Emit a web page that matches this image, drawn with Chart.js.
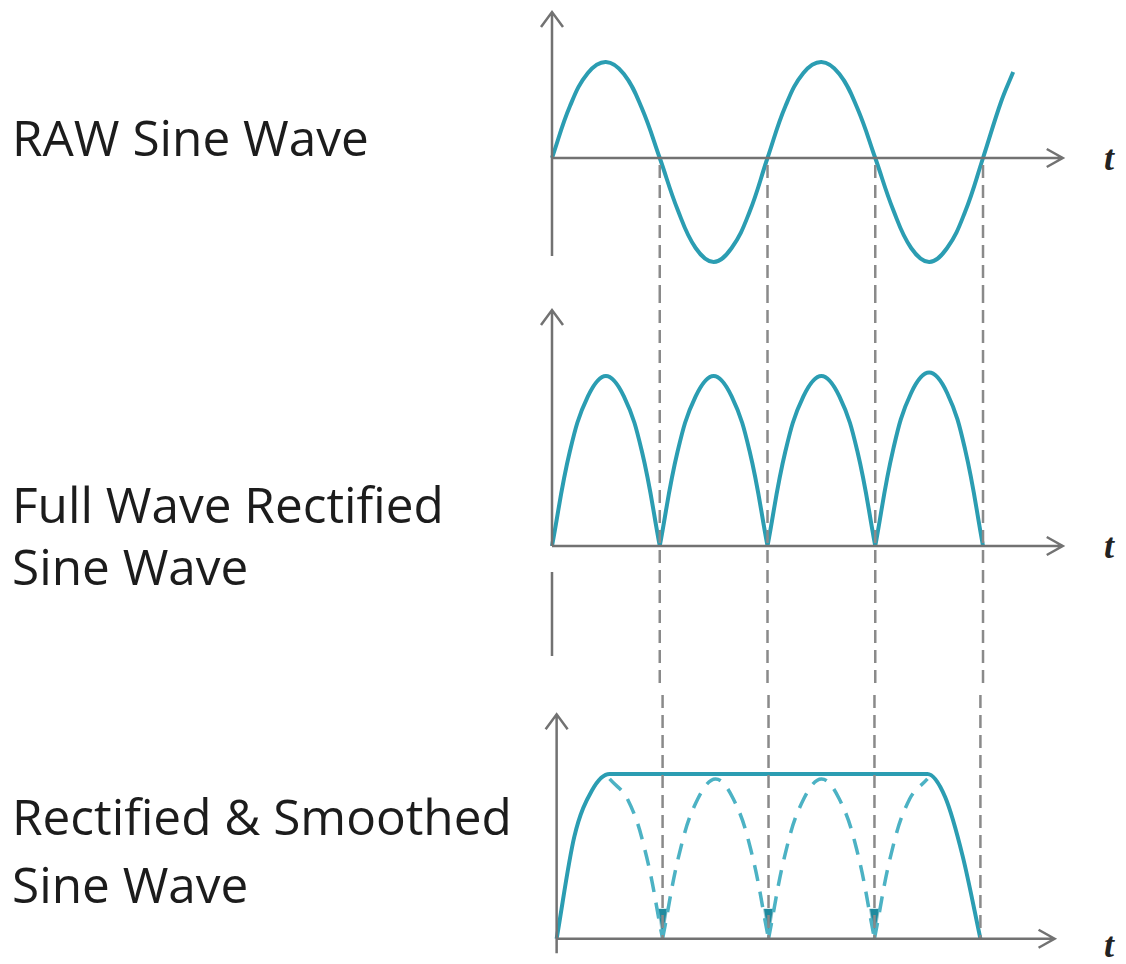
<!DOCTYPE html>
<html>
<head>
<meta charset="utf-8">
<script src="https://cdn.jsdelivr.net/npm/chart.js@4.4.1/dist/chart.umd.min.js"></script>
<style>
  html, body { margin: 0; padding: 0; background: #fff; }
  #page { position: relative; width: 1126px; height: 964px; overflow: hidden; font-family: "Open Sans", sans-serif; color: #1c1c1c; }
  .label { position: absolute; left: 12px; font-size: 49.5px; white-space: nowrap; }
  .t { position: absolute; left: 1104px; font: italic bold 36px "Liberation Serif", serif; line-height: 36px; color: #222; }
  .panel { position: absolute; left: 530px; width: 596px; }
</style>
</head>
<body>
<div id="page">
  <div class="label" style="top:105px; line-height:65px">RAW Sine Wave</div>
  <div class="label" style="top:473px; line-height:62px">Full Wave Rectified<br>Sine Wave</div>
  <div class="label" style="top:782px; line-height:68px">Rectified &amp; Smoothed<br>Sine Wave</div>
  <div class="t" style="top:140px">t</div>
  <div class="t" style="top:528px">t</div>
  <div class="t" style="top:927px">t</div>
  <canvas class="panel" id="raw" width="596" height="290" style="top:0"></canvas>
  <canvas class="panel" id="rect" width="596" height="400" style="top:290px"></canvas>
  <canvas class="panel" id="smooth" width="596" height="274" style="top:690px"></canvas>
</div>
<script>
// Time is counted in half periods of the input wave, so the zero crossings sit at 0, 1, 2, 3, 4.
const crossings = [1, 2, 3, 4];

// RAW sine wave (hand drawn in the original, so the lobes are a little uneven)
const rawTime = [0, 0.167, 0.333, 0.5, 0.667, 0.833, 1,
    1.167, 1.333, 1.5, 1.667, 1.833, 2,
    2.167, 2.333, 2.5, 2.667, 2.833, 3,
    3.167, 3.333, 3.5, 3.667, 3.833, 4,
    4.167, 4.28];
const rawValues = [0, 0.52, 0.85, 0.96, 0.84, 0.5, 0,
    -0.52, -0.9, -1.04, -0.9, -0.54, 0,
    0.52, 0.85, 0.96, 0.84, 0.5, 0,
    -0.52, -0.9, -1.04, -0.9, -0.54, 0,
    0.56, 0.86];

// Full wave rectified: one arch per half period, null breaks the line at each cusp
const rectTime = [0, 0.167, 0.333, 0.5, 0.667, 0.833, 1, 1,
    1, 1.167, 1.333, 1.5, 1.667, 1.833, 2, 2,
    2, 2.167, 2.333, 2.5, 2.667, 2.833, 3, 3,
    3, 3.167, 3.333, 3.5, 3.667, 3.833, 4];
const rectValues = [0, 0.56, 0.88, 1, 0.88, 0.56, 0, null,
    0, 0.56, 0.88, 1, 0.88, 0.56, 0, null,
    0, 0.56, 0.88, 1, 0.88, 0.56, 0, null,
    0, 0.57, 0.9, 1.02, 0.9, 0.57, 0];

// Smoothed output (solid envelope)
const smoothTime = [0, 0.167, 0.333, 0.5, 3.5, 3.667, 3.833, 4];
const smoothValues = [0, 0.62, 0.9, 1, 1, 0.86, 0.5, 0];

// The dips the smoothing removes (dashed)
const dipTime = [0.5, 0.667, 0.833, 1, 1,
    1, 1.167, 1.333, 1.5, 1.667, 1.833, 2, 2,
    2, 2.167, 2.333, 2.5, 2.667, 2.833, 3, 3,
    3, 3.167, 3.333, 3.5];
const dipValues = [0.97, 0.85, 0.54, 0, null,
    0, 0.54, 0.85, 0.97, 0.85, 0.54, 0, null,
    0, 0.54, 0.85, 0.97, 0.85, 0.54, 0, null,
    0, 0.54, 0.85, 0.97];
const dipArrowTime = [1, 2, 3];
const dipArrowValues = [0, 0, 0];

const TEAL = '#2b9db2';
const TEAL_LIGHT = '#4cb2c4';
const AXIS = '#727272';
const GUIDE = '#8a8a8a';
const X_MIN = -0.2042;
const X_MAX = 5.327;

const points = (ts, vs) => ts.map((t, i) => ({ x: t, y: vs[i] }));

// little down arrow, tip at the centre of the image
const arrowHead = document.createElement('canvas');
arrowHead.width = 12;
arrowHead.height = 64;
(() => {
    const c = arrowHead.getContext('2d');
    c.fillStyle = '#1f8a9e';
    c.beginPath();
    c.moveTo(1, 2);
    c.lineTo(11, 2);
    c.lineTo(6, 32);
    c.closePath();
    c.fill();
})();

// axes with open arrow heads + the dashed guides at the zero crossings
const sketchAxes = {
    id: 'sketchAxes',
    afterDatasetsDraw(chart, args, opts) {
        const { ctx, scales: { x, y } } = chart;
        const px = v => x.getPixelForValue(v);
        const py = v => y.getPixelForValue(v);
        ctx.save();

        ctx.strokeStyle = GUIDE;
        ctx.lineWidth = 2.5;
        ctx.setLineDash([13, 7]);
        crossings.forEach(c => {
            ctx.beginPath();
            ctx.moveTo(px(c), py(opts.guideTop));
            ctx.lineTo(px(c), py(opts.guideBottom));
            ctx.stroke();
        });
        ctx.setLineDash([]);

        ctx.strokeStyle = AXIS;
        ctx.lineWidth = 2.5;
        const x0 = px(0), y0 = py(0);
        // x axis
        const xe = px(opts.xEnd);
        ctx.beginPath();
        ctx.moveTo(x0, y0);
        ctx.lineTo(xe, y0);
        ctx.moveTo(xe - 16, y0 - 9);
        ctx.lineTo(xe, y0);
        ctx.lineTo(xe - 16, y0 + 9);
        // y axis
        const yt = py(opts.yTop);
        ctx.moveTo(x0, py(opts.yBottom));
        ctx.lineTo(x0, yt);
        ctx.moveTo(x0 - 11, yt + 15);
        ctx.lineTo(x0, yt);
        ctx.lineTo(x0 + 11, yt + 15);
        if (opts.yStub) {
            ctx.moveTo(x0, py(opts.yStub[0]));
            ctx.lineTo(x0, py(opts.yStub[1]));
        }
        ctx.stroke();
        ctx.restore();
    }
};

function curve(ts, vs, extra) {
    return Object.assign({
        data: points(ts, vs),
        borderColor: TEAL,
        borderWidth: 4,
        pointRadius: 0,
        tension: 0.4,
        fill: false
    }, extra);
}

function makePanel(id, datasets, yMin, yMax, marks) {
    return new Chart(document.getElementById(id), {
        type: 'line',
        data: { datasets },
        options: {
            responsive: false,
            animation: false,
            layout: { padding: 0 },
            scales: {
                x: { type: 'linear', min: X_MIN, max: X_MAX, display: false },
                y: { type: 'linear', min: yMin, max: yMax, display: false }
            },
            plugins: {
                legend: { display: false },
                tooltip: { enabled: false },
                sketchAxes: marks
            }
        },
        plugins: [sketchAxes]
    });
}

makePanel('raw', [curve(rawTime, rawValues)], -1.32, 1.58,
    { xEnd: 4.74, yTop: 1.46, yBottom: -0.98, guideTop: -0.07, guideBottom: -1.32 });

makePanel('rect', [curve(rectTime, rectValues)], -0.8471, 1.5059,
    { xEnd: 4.74, yTop: 1.388, yBottom: 0, yStub: [-0.153, -0.647], guideTop: 1.5059, guideBottom: -0.8471 });

makePanel('smooth', [
    curve(smoothTime, smoothValues, { cubicInterpolationMode: 'monotone' }),
    curve(dipTime, dipValues, { borderColor: TEAL_LIGHT, borderWidth: 3.5, borderDash: [16, 11] }),
    {
        data: points(dipArrowTime, dipArrowValues),
        showLine: false,
        pointStyle: arrowHead,
        pointRadius: 3
    }
], -0.1228, 1.4795,
    { xEnd: 4.7, yTop: 1.3626, yBottom: -0.088, guideTop: 1.4795, guideBottom: 0 });
</script>
</body>
</html>
